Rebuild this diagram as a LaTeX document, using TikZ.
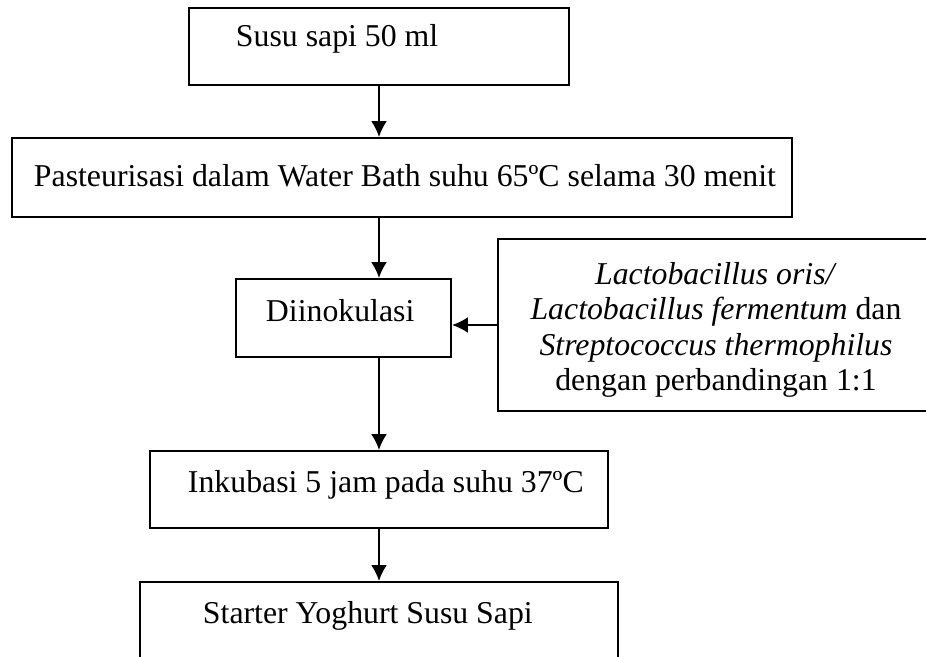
\documentclass[tikz,border=0pt]{standalone}
\usepackage{fontspec}
\setmainfont{Liberation Serif}
\usetikzlibrary{arrows.meta,fit}

\begin{document}
\begin{tikzpicture}[x=0.3774pt,y=-0.3774pt,line width=0.75pt,>={Latex[length=6pt,width=6pt]},
  box/.style={draw,rectangle,inner sep=0pt},
  txt/.style={inner sep=0pt,font=\fontsize{12pt}{13.4pt}\selectfont}]

  \useasboundingbox (0,0) rectangle (926,657);

  % boxes (pixel grid, y down)
  \node[box,fit={(189,8) (569,85)}]    (susu)  {};
  \node[box,fit={(12,138) (792,217)}]  (past)  {};
  \node[box,fit={(236,279) (451,357)}] (inok)  {};
  \node[box,fit={(498,239) (934,411)}] (kult)  {};
  \node[box,fit={(150,451) (608,528)}] (inku)  {};
  \node[box,fit={(140,582) (618,700)}] (start) {};

  % texts
  \node[txt,anchor=base west] (t-susu)  at (235,47)  {Susu sapi 50 ml};
  \node[txt,anchor=base west] (t-past)  at (33,187)  {Pasteurisasi dalam Water Bath suhu 65ºC selama 30 menit};
  \node[txt,anchor=base west] (t-inok)  at (265,322) {Diinokulasi};
  \node[txt,align=center]     (t-kult)  at (716,330) {\textit{Lactobacillus oris/}\\
    \textit{Lactobacillus fermentum} dan\\ \textit{Streptococcus thermophilus}\\ dengan perbandingan 1:1};
  \node[txt,anchor=base west] (t-inku)  at (187,492) {Inkubasi 5 jam pada suhu 37ºC};
  \node[txt,anchor=base west] (t-start) at (202,623) {Starter Yoghurt Susu Sapi};

  % flow
  \coordinate (axis) at (379,0);
  \draw[->] (axis |- susu.south) -- (axis |- past.north);
  \draw[->] (axis |- past.south) -- (axis |- inok.north);
  \draw[->] (axis |- inok.south) -- (axis |- inku.north);
  \draw[->] (axis |- inku.south) -- (axis |- start.north);
  \draw[->] (kult.west) -- (kult.west -| inok.east);

\end{tikzpicture}
\end{document}
